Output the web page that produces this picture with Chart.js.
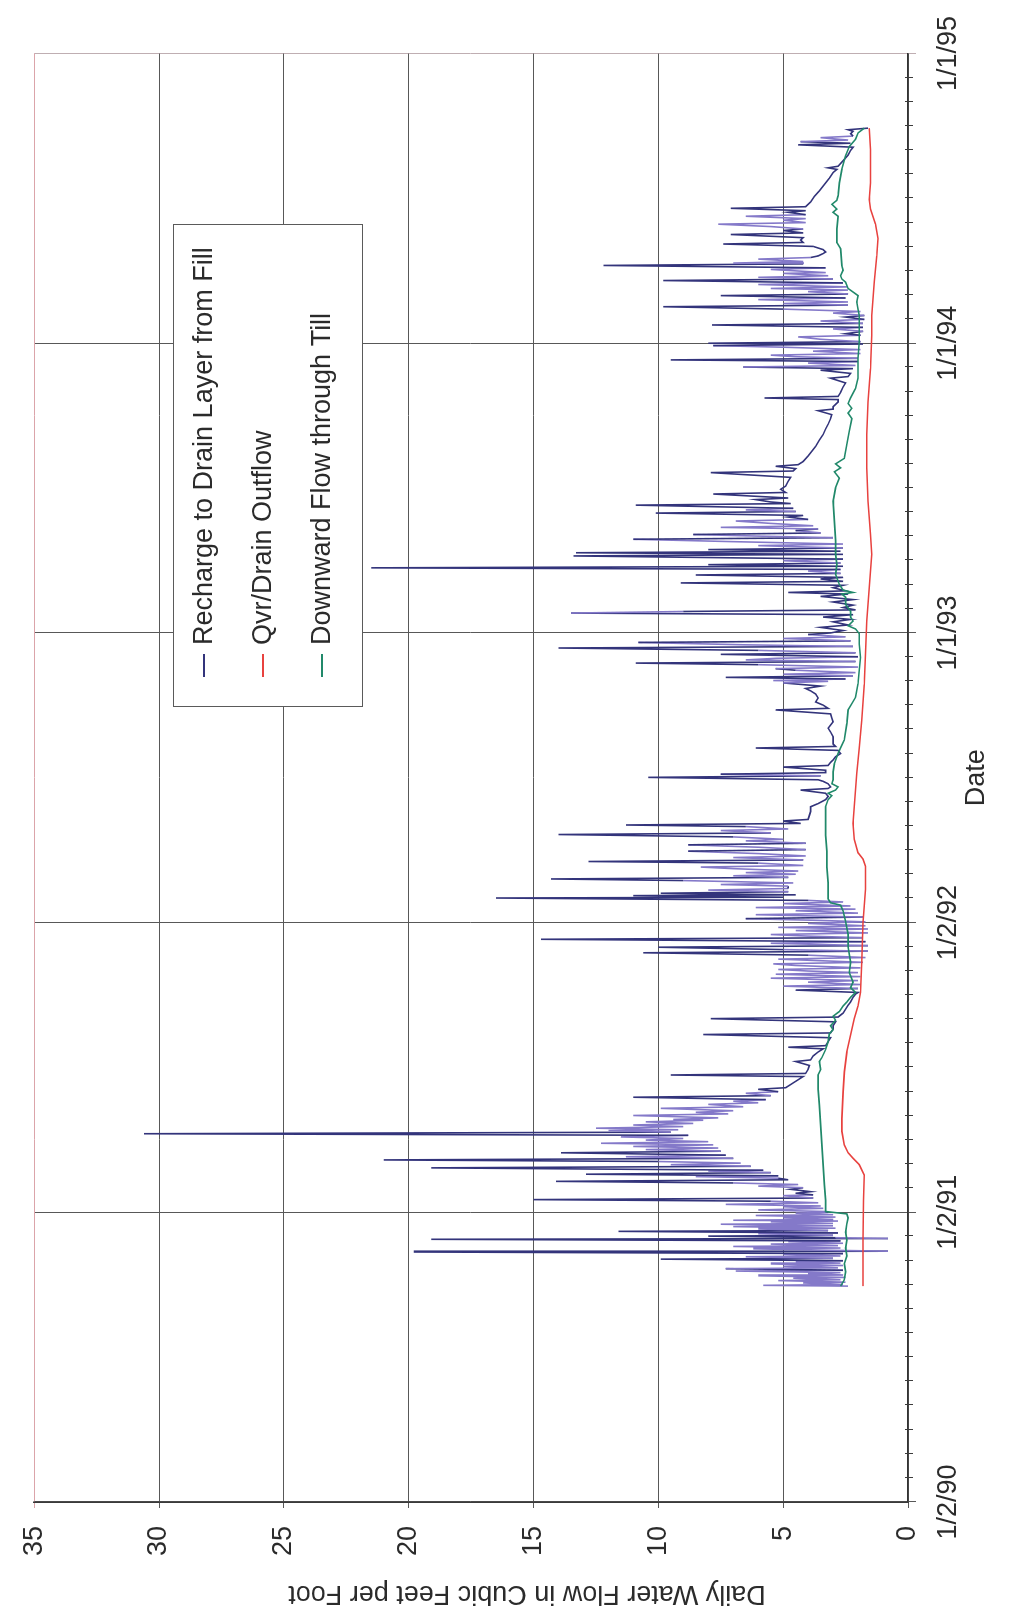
<!DOCTYPE html>
<html>
<head>
<meta charset="utf-8">
<title>Daily Water Flow</title>
<script src="https://cdn.jsdelivr.net/npm/chart.js@4.4.1/dist/chart.umd.min.js"></script>
<style>
  html, body { margin: 0; padding: 0; background: #fff; overflow: hidden; }
  #page { position: absolute; left: 0; top: 0; width: 1022px; height: 1606px; overflow: hidden; background: #fff; }
  /* the chart is laid out landscape and turned a quarter turn counter-clockwise */
  #turn { position: absolute; left: 0; top: 0; width: 1606px; height: 1022px;
          transform-origin: 0 0; transform: translateY(1606px) rotate(-90deg); }
  #c { display: block; width: 1606px; height: 1022px; }
</style>
</head>
<body>
<div id="page"><div id="turn"><canvas id="c" width="1606" height="1022"></canvas></div></div>
<script>
// x values are days counted from 1/2/90
const dateTickDays = [0, 365, 730, 1095, 1460, 1825];
const dateTickLabels = ['1/2/90', '1/2/91', '1/2/92', '1/1/93', '1/1/94', '1/1/95'];
const minorTicksPerYear = 12;

const seriesNames = ['Recharge to Drain Layer from Fill', 'Qvr/Drain Outflow', 'Downward Flow through Till'];

// [day, cubic feet per foot]
const rechargeFromFill = [
  [272,2.4],[273,5.8],[274,2.6],[276,4.2],[277,2.5],[279,5.2],[280,2.7],[282,4.6],[283,2.5],[285,6.0],
  [286,2.6],[288,4.0],[289,2.7],[291,6.9],[292,2.6],[294,7.3],[295,2.8],[297,5.0],[298,2.6],[300,5.5],
  [301,2.7],[303,4.5],[304,2.6],[306,9.9],[307,3.0],[309,6.5],[310,2.7],[312,5.0],[313,2.6],[315,19.8],
  [316,0.8],[317,2.8],[319,6.2],[320,2.7],[322,7.0],[323,2.8],[325,5.5],[326,2.6],[328,4.8],[329,2.7],
  [331,19.1],[332,0.8],[333,2.9],[335,8.0],[336,3.0],[338,6.0],[339,2.8],[341,11.6],[342,3.2],[344,6.0],
  [345,2.9],[347,7.0],[348,3.0],[350,7.5],[351,3.0],[353,5.5],[354,2.8],[355,7.0],[356,3.0],[358,5.0],
  [359,2.9],[361,6.1],[362,3.0],[364,4.5],[365,3.2],
  [366,3.3],[368,6.0],[370,3.4],[372,5.0],[373,3.5],[375,7.3],[377,3.6],[379,5.5],[381,15.0],[383,3.8],
  [386,5.0],[387,3.8],[389,4.5],[391,3.9],[394,4.7],[396,4.2],[398,6.0],[400,4.4],[402,7.0],[404,14.1],
  [406,4.8],[408,5.2],[410,8.5],[411,5.2],[413,12.9],[415,5.5],[417,8.0],[418,5.8],[421,19.1],[423,6.3],
  [425,9.5],[427,6.7],[429,10.0],[431,21.0],[433,7.0],[435,11.3],[437,7.3],[440,13.9],[442,7.5],[444,10.5],
  [446,7.6],[448,11.0],[450,7.8],[452,12.3],[454,8.0],[456,10.5],[458,9.0],[460,11.5],[462,8.8],[464,30.6],
  [466,9.5],[468,12.0],[469,9.2],[471,12.5],[473,9.0],[475,11.0],[477,8.6],[479,10.5],[481,8.2],[482,9.4],
  [484,7.6],[487,11.0],[489,7.2],[491,8.5],[493,7.0],[496,9.9],[498,6.6],[501,8.0],[503,6.0],[505,7.0],
  [507,5.7],[510,11.0],[512,5.5],[515,6.5],[517,5.2],[520,6.0],[522,4.9],[528,4.6],[532,4.4],[536,4.2],
  [538,9.5],[540,4.1],[545,4.0],[550,3.95],[555,4.5],[557,3.9],[562,3.8],[567,3.6],[571,3.4],[573,4.8],
  [575,3.3],[580,3.2],[585,3.1],[589,8.2],[591,3.1],[596,3.0],[600,3.0],[605,2.9],[609,7.9],[611,2.8],
  [616,2.6],[621,2.5],[626,2.4],[630,2.3],[636,2.2],[640,2.1],
  [642,2.0],[645,4.5],[647,2.0],[650,5.0],[652,1.9],[655,4.0],[657,2.0],[660,5.5],[662,1.9],[665,5.3],
  [667,2.0],[669,4.0],[671,5.2],[673,1.9],[676,4.5],[678,5.4],[680,1.8],[682,3.5],[684,5.2],[686,1.7],
  [689,4.0],[692,10.6],[694,1.6],[696,5.0],[699,10.0],[701,1.6],[704,5.5],[706,1.7],[709,14.7],[711,1.8],
  [713,4.0],[715,5.5],[717,1.6],[720,4.5],[722,1.6],[724,5.2],[726,1.7],[729,4.0],[731,1.7],[733,3.8],
  [735,6.5],[737,1.8],[740,6.1],[742,2.0],[745,4.5],[747,2.1],[749,6.1],[751,2.3],[754,5.0],[756,2.6],
  [758,4.0],
  [761,16.5],[762,5.0],[764,11.0],[765,4.5],[767,9.9],[769,4.8],[771,8.0],[773,4.8],[776,4.8],[778,7.5],
  [780,4.6],[783,9.0],[785,14.3],[787,4.8],[789,7.0],[791,4.5],[793,6.5],[795,4.4],[798,7.0],[800,8.3],
  [802,4.2],[805,6.0],[807,12.8],[809,4.2],[812,7.0],[814,4.1],[817,6.0],[820,8.8],[822,4.1],[825,6.0],
  [828,8.8],[830,4.1],[833,6.5],[835,5.0],[838,7.0],[841,14.0],[843,5.5],[846,7.5],[848,4.8],[851,6.5],
  [853,11.3],[855,4.3],[858,5.0],[860,4.0],
  [865,3.95],[870,3.9],[876,3.9],[880,3.6],[885,3.3],[889,3.2],[893,3.3],[897,4.3],[899,3.2],[901,3.1],
  [905,3.2],[908,3.4],[910,3.6],[913,10.4],[915,3.5],[917,7.5],[919,3.3],
  [922,3.3],[926,5.0],[928,3.2],[932,3.1],[935,3.0],[939,2.9],[943,2.7],[947,2.8],[950,6.1],[952,2.9],
  [955,3.0],[960,3.0],[964,3.0],[970,3.1],[975,3.2],[979,3.1],[983,3.0],[988,3.05],[993,3.1],[998,5.3],
  [1000,3.2],[1004,3.4],[1008,3.7],[1013,3.6],[1018,3.7],[1022,3.9],[1025,4.1],[1028,3.5],[1032,5.0],[1034,3.2],
  [1035,5.4],[1037,2.5],[1039,7.3],[1041,2.2],[1043,5.0],[1045,2.1],[1048,4.5],[1050,5.3],[1052,2.0],[1055,6.0],
  [1057,10.9],[1059,2.1],[1061,6.5],[1063,5.3],[1065,2.0],[1068,7.5],[1070,2.1],[1073,6.0],[1076,14.0],[1078,2.2],
  [1080,6.5],[1083,10.8],[1085,2.3],[1088,5.0],[1090,2.5],[1093,4.0],[1095,3.1],[1098,2.6],[1102,3.5],[1105,2.4],
  [1109,3.0],[1112,2.3],[1115,3.4],[1118,2.2],[1120,13.5],[1122,9.0],[1124,2.1],[1127,2.6],[1130,2.2],[1134,3.0],
  [1137,2.2],[1141,3.5],[1144,2.4],[1146,4.8],[1148,2.5],[1152,3.0],[1155,2.6],[1158,9.1],[1160,2.6],[1163,3.5],
  [1165,2.6],[1168,8.5],[1170,2.7],[1173,4.0],[1175,2.7],[1177,21.5],[1179,2.6],[1181,8.0],[1183,2.7],[1186,5.0],
  [1188,2.6],[1192,13.4],[1194,2.6],
  [1196,13.3],[1198,2.7],[1200,8.0],[1202,2.6],[1205,6.0],[1207,2.6],[1210,7.0],[1213,11.0],[1215,3.0],[1217,6.0],
  [1219,8.6],[1221,3.5],[1224,4.5],[1226,3.6],[1228,7.5],[1230,3.8],[1233,5.5],[1236,6.9],[1238,4.0],[1241,4.8],
  [1243,4.2],[1246,10.1],[1248,4.5],[1250,6.5],[1252,4.6],[1256,10.9],[1258,4.7],[1260,5.5],[1263,6.1],[1265,4.8],
  [1270,7.8],[1272,4.9],[1276,5.1],[1280,4.9],[1286,4.8],[1291,4.7],[1297,7.9],[1299,4.6],[1302,4.5],[1305,5.3],
  [1307,4.4],[1311,4.2],[1318,4.0],[1324,3.85],[1330,3.7],[1338,3.55],[1345,3.4],[1352,3.3],[1358,3.2],[1365,3.1],
  [1370,3.05],[1375,3.6],[1377,3.0],[1380,3.0],[1383,2.9],[1386,2.8],[1389,2.8],[1391,5.75],[1393,2.8],[1398,2.7],
  [1405,2.6],[1410,2.5],[1416,3.1],[1418,2.4],[1422,2.3],[1426,3.5],[1428,2.2],[1430,6.6],[1432,2.1],[1435,4.0],
  [1437,2.0],[1439,9.5],[1441,2.0],[1443,4.5],[1445,5.5],[1447,1.9],[1450,3.8],[1452,1.9],[1455,5.0],[1457,7.8],
  [1459,1.8],
  [1460,8.0],[1462,1.9],[1465,3.5],[1468,4.4],[1470,1.9],[1472,2.5],[1475,1.8],[1478,3.0],[1480,1.8],[1483,7.85],
  [1485,1.8],[1488,3.5],[1490,1.75],[1493,2.5],[1495,1.75],[1498,3.0],[1500,1.9],[1503,5.0],[1506,9.8],[1508,2.4],
  [1510,5.0],[1512,2.4],[1515,6.0],[1517,2.5],[1520,7.5],[1522,2.4],[1525,4.0],[1527,2.4],[1529,5.5],[1531,2.4],
  [1534,6.0],[1536,2.6],[1539,9.8],[1541,3.0],[1543,6.0],[1545,3.2],[1548,5.0],[1549,3.3],[1553,5.5],[1555,3.3],
  [1558,12.2],[1560,4.2],[1561,7.0],[1563,4.2],[1566,6.0],[1568,3.9],[1570,3.6],[1573,3.4],[1575,3.3],[1578,3.4],
  [1582,3.8],[1585,7.4],[1587,4.2],[1590,4.3],[1593,4.2],[1597,7.1],[1599,4.2],[1602,5.0],[1604,4.2],[1607,5.5],
  [1610,7.6],[1612,4.1],[1615,5.0],[1617,4.1],[1620,6.5],[1622,4.1],[1625,4.8],[1627,4.1],[1630,7.1],[1632,4.1],
  [1638,3.9],[1645,3.75],[1652,3.55],[1660,3.35],[1668,3.15],[1675,3.0],[1679,2.85],[1681,3.2],[1683,2.8],[1690,2.6],
  [1697,2.4],[1703,2.3],[1707,2.2],[1710,4.4],[1712,2.3],[1714,4.3],[1716,2.4],[1719,3.5],[1721,2.2],[1724,2.3],
  [1727,2.2],[1729,2.4],[1731,1.6]
];

const drainOutflow = [
  [272,1.8],[330,1.8],[380,1.78],[412,1.75],[425,1.95],[433,2.2],[440,2.4],[450,2.55],[467,2.65],[483,2.65],
  [517,2.6],[542,2.55],[567,2.45],[588,2.3],[609,2.15],[625,2.0],[642,1.9],[680,1.85],[730,1.8],[772,1.7],
  [801,1.7],[810,1.8],[818,2.0],[835,2.15],[855,2.2],[876,2.15],[897,2.1],[918,2.05],[950,1.95],[985,1.85],
  [1030,1.75],[1069,1.7],[1110,1.65],[1152,1.55],[1194,1.45],[1219,1.5],[1261,1.6],[1303,1.65],[1345,1.65],[1386,1.6],
  [1428,1.5],[1470,1.45],[1495,1.45],[1537,1.35],[1570,1.25],[1592,1.2],[1610,1.3],[1629,1.5],[1641,1.55],[1662,1.5],
  [1683,1.5],[1704,1.5],[1731,1.55]
];

const flowThroughTill = [
  [272,2.7],[280,2.55],[290,2.5],[300,2.55],[310,2.45],[320,2.5],[330,2.45],[340,2.5],[350,2.45],[358,2.4],
  [363,2.45],[366,3.3],[380,3.3],[400,3.35],[425,3.4],[450,3.45],[475,3.5],[500,3.55],[520,3.6],[538,3.6],
  [545,3.5],[555,3.55],[560,3.45],[570,3.3],[580,3.2],[590,3.15],[595,3.0],[600,3.1],[607,2.9],[612,3.0],
  [618,2.75],[625,2.6],[630,2.45],[636,2.3],[642,2.1],[648,2.3],[655,2.2],[667,2.35],[680,2.3],[700,2.4],
  [715,2.4],[732,2.5],[745,2.6],[752,2.7],[755,3.1],[760,3.2],[780,3.2],[800,3.25],[820,3.25],[840,3.3],
  [860,3.3],[876,3.3],[885,3.2],[890,3.05],[893,3.2],[897,2.9],[901,2.8],[905,3.05],[910,3.0],[920,3.0],
  [930,2.95],[943,2.8],[950,2.7],[960,2.55],[981,2.45],[998,2.4],[1006,2.25],[1014,2.1],[1031,2.0],[1048,1.95],
  [1064,1.9],[1081,1.95],[1094,1.95],[1100,2.1],[1104,2.4],[1110,2.2],[1115,2.3],[1122,2.3],[1131,2.5],[1140,2.5],
  [1144,2.65],[1146,2.2],[1149,2.6],[1156,2.75],[1169,2.9],[1181,2.85],[1194,2.9],[1211,2.9],[1236,2.95],[1261,3.0],
  [1278,2.9],[1290,2.75],[1298,2.95],[1303,2.7],[1308,2.9],[1315,2.55],[1332,2.45],[1349,2.35],[1365,2.25],[1372,2.4],
  [1378,2.25],[1384,2.4],[1391,2.3],[1403,2.1],[1416,2.0],[1428,2.0],[1441,2.0],[1462,1.95],[1478,1.95],[1495,1.95],
  [1503,2.0],[1512,2.05],[1520,2.0],[1529,2.4],[1537,2.5],[1541,2.65],[1545,2.7],[1552,2.6],[1558,2.65],[1579,2.7],
  [1587,2.85],[1604,2.85],[1620,2.8],[1625,3.0],[1629,2.85],[1635,3.05],[1640,2.85],[1646,2.8],[1662,2.75],[1679,2.65],
  [1696,2.5],[1708,2.35],[1717,2.1],[1725,2.0],[1731,1.75]
];

const seriesColors = ['#33347b', '#e8423f', '#21896a'];
// closely packed small swings of the recharge trace print as a lighter violet
const rechargeDenseColor = '#8479c9';

const FONT = "'Liberation Sans', Arial, Helvetica, sans-serif";
Chart.defaults.font.family = FONT;
Chart.defaults.color = '#2b2b2b';

const toPoints = s => s.map(([x, y]) => ({ x, y }));

function rechargeSegmentColor(c) {
  const i = c.p0DataIndex;
  const jump = Math.abs(c.p1.parsed.y - c.p0.parsed.y);
  if (jump < 0.9 || jump > 4.6) return seriesColors[0];
  const d0 = rechargeFromFill[i][0];
  let near = 0;
  for (let k = Math.max(0, i - 6); k <= Math.min(rechargeFromFill.length - 1, i + 6); k++) {
    if (Math.abs(rechargeFromFill[k][0] - d0) <= 8) near++;
  }
  return near >= 7 ? rechargeDenseColor : seriesColors[0];
}

// monthly ticks, the value-axis caption and the boxed key
const decorations = {
  id: 'decorations',
  afterDraw(chart) {
    const { ctx, chartArea: a, scales: { x } } = chart;
    ctx.save();

    ctx.strokeStyle = '#3c3c3c';
    ctx.lineWidth = 1;
    const years = dateTickDays[dateTickDays.length - 1] / 365;
    for (let k = 1; k < years * minorTicksPerYear; k++) {
      if (k % minorTicksPerYear === 0) continue;
      const px = Math.round(x.getPixelForValue(k * 365 / minorTicksPerYear)) + 0.5;
      ctx.beginPath();
      ctx.moveTo(px, a.bottom - 3);
      ctx.lineTo(px, a.bottom + 5);
      ctx.stroke();
    }

    ctx.fillStyle = '#2b2b2b';
    ctx.font = '27px ' + FONT;
    ctx.textAlign = 'center';
    ctx.textBaseline = 'middle';
    ctx.translate(13, 527);
    ctx.rotate(-Math.PI / 2);
    ctx.fillText('Daily Water Flow in Cubic Feet per Foot', 0, 0);
    ctx.setTransform(1, 0, 0, 1, 0, 0);

    const box = { left: 899, top: 173, right: 1381, bottom: 362 };
    ctx.fillStyle = '#ffffff';
    ctx.fillRect(box.left, box.top, box.right - box.left, box.bottom - box.top);
    ctx.strokeStyle = '#5a5a5a';
    ctx.lineWidth = 1;
    ctx.strokeRect(box.left + 0.5, box.top + 0.5, box.right - box.left, box.bottom - box.top);
    const rows = [204, 263, 322];
    ctx.font = '27px ' + FONT;
    ctx.textAlign = 'left';
    chart.data.datasets.forEach((ds, i) => {
      ctx.strokeStyle = ds.borderColor;
      ctx.lineWidth = 2;
      ctx.beginPath();
      ctx.moveTo(929, rows[i]);
      ctx.lineTo(952, rows[i]);
      ctx.stroke();
      ctx.fillStyle = '#2b2b2b';
      ctx.fillText(ds.label, 961, rows[i] + 1);
    });
    ctx.restore();
  }
};

new Chart(document.getElementById('c'), {
  type: 'line',
  data: {
    datasets: [
      { label: seriesNames[0], data: toPoints(rechargeFromFill), borderColor: seriesColors[0], borderWidth: 1.6, order: 3,
        segment: { borderColor: rechargeSegmentColor } },
      { label: seriesNames[1], data: toPoints(drainOutflow), borderColor: seriesColors[1], borderWidth: 1.6, order: 2 },
      { label: seriesNames[2], data: toPoints(flowThroughTill), borderColor: seriesColors[2], borderWidth: 1.6, order: 1 }
    ]
  },
  options: {
    responsive: false,
    devicePixelRatio: 1,
    animation: false,
    events: [],
    elements: { point: { radius: 0 }, line: { tension: 0, fill: false } },
    layout: { padding: { left: 0, top: 31, right: 47, bottom: 0 } },
    plugins: { legend: { display: false }, tooltip: { enabled: false }, title: { display: false } },
    scales: {
      x: {
        type: 'linear',
        min: dateTickDays[0],
        max: dateTickDays[dateTickDays.length - 1],
        afterBuildTicks: s => { s.ticks = dateTickDays.map(v => ({ value: v })); },
        afterFit: s => { s.height = 114; },
        ticks: {
          autoSkip: false, maxRotation: 0, padding: 16,
          font: { size: 27 }, color: '#2b2b2b',
          callback: v => dateTickLabels[dateTickDays.indexOf(v)]
        },
        grid: {
          color: c => (c.tick && c.tick.value === 1825) ? '#bfaeb2' : '#585858',
          lineWidth: 1, tickLength: 8
        },
        border: { color: '#333333', width: 1.5 },
        title: { display: true, text: 'Date', font: { size: 27 }, color: '#2b2b2b', padding: { top: 0, bottom: 29 } }
      },
      y: {
        type: 'linear',
        min: 0, max: 35,
        afterFit: s => { s.width = 104; },
        ticks: { stepSize: 5, padding: 18, font: { size: 27 }, color: '#2b2b2b' },
        grid: {
          color: c => (c.tick && c.tick.value === 35) ? '#dba4aa' : '#585858',
          lineWidth: 1, tickLength: 6
        },
        border: { color: '#3a3a3a', width: 1.5 }
      }
    }
  },
  plugins: [decorations]
});
</script>
</body>
</html>
